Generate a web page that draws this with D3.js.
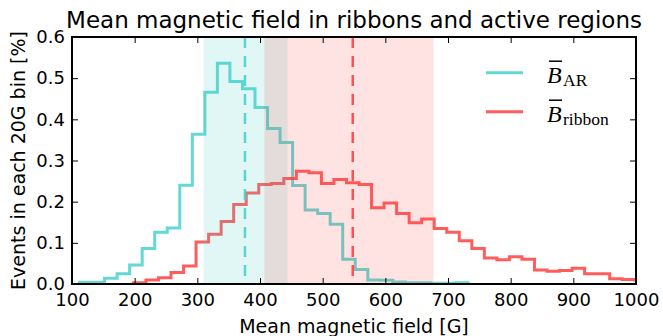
<!DOCTYPE html>
<html>
<head>
<meta charset="utf-8">
<script src="https://cdn.jsdelivr.net/npm/d3@7"></script>
<style>
  body { margin: 0; background: #fff; }
  text { font-family: "DejaVu Sans", sans-serif; fill: #000; }
</style>
</head>
<body>
<div id="chart"></div>
<script>
// histograms, 20 G bins (values in %)
const binWidth = 20;
const arStart = 112;
const arValues = [0.004, 0.004, 0.014, 0.025, 0.046, 0.086, 0.126, 0.136, 0.240, 0.364,
  0.466, 0.536, 0.492, 0.474, 0.429, 0.378, 0.344, 0.239, 0.180, 0.171,
  0.145, 0.060, 0.035, 0.010, 0.009, 0.005, 0.003, 0.003, 0.002, 0.002, 0.003];
const ribbonStart = 198;
const ribbonValues = [0.003, 0.010, 0.015, 0.028, 0.044, 0.102, 0.121, 0.152, 0.193, 0.221,
  0.242, 0.244, 0.256, 0.274, 0.270, 0.244, 0.254, 0.246, 0.242, 0.185,
  0.197, 0.171, 0.149, 0.158, 0.135, 0.126, 0.105, 0.086, 0.063, 0.059,
  0.066, 0.060, 0.034, 0.031, 0.033, 0.038, 0.025, 0.025, 0.013, 0.011, 0.010];

// means and shaded ranges (they overlap between ~407 and ~444 G)
const arMean = 376, ribbonMean = 548;
const arBand = [310, 444];
const ribbonBand = [407, 677];

const xTicks = [100, 200, 300, 400, 500, 600, 700, 800, 900, 1000];
const yTicks = [0.0, 0.1, 0.2, 0.3, 0.4, 0.5, 0.6];

const cyan = "#48d1cc", red = "#ff4040";

const margin = {top: 37, right: 27, bottom: 52, left: 72},
  width = 663 - margin.left - margin.right,
  height = 336 - margin.top - margin.bottom;

const svg = d3.select("#chart")
.append("svg")
  .attr("width", width + margin.left + margin.right)
  .attr("height", height + margin.top + margin.bottom)
.append("g")
  .attr("transform", "translate(" + margin.left + "," + margin.top + ")");

const x = d3.scaleLinear().domain([100, 1000]).range([0, width]);
const y = d3.scaleLinear().domain([0, 0.6]).range([height, 0]);

svg.append("defs").append("clipPath")
  .attr("id", "clip")
  .append("rect")
  .attr("width", width)
  .attr("height", height);

const plot = svg.append("g").attr("clip-path", "url(#clip)");

// step outline like histtype='step'
function stepPoints(start, values) {
  const pts = [[start, 0]];
  values.forEach((v, i) => pts.push([start + i * binWidth, v]));
  pts.push([start + values.length * binWidth, 0]);
  return pts;
}
const step = d3.line()
  .x(d => x(d[0]))
  .y(d => y(d[1]))
  .curve(d3.curveStepAfter);

plot.append("path")
  .attr("d", step(stepPoints(arStart, arValues)))
  .attr("fill", "none")
  .attr("stroke", cyan)
  .attr("stroke-opacity", 0.85)
  .attr("stroke-width", 3);

plot.append("path")
  .attr("d", step(stepPoints(ribbonStart, ribbonValues)))
  .attr("fill", "none")
  .attr("stroke", red)
  .attr("stroke-opacity", 0.85)
  .attr("stroke-width", 3);

// shaded ranges drawn over the lines
plot.append("rect")
  .attr("x", x(arBand[0]))
  .attr("width", x(arBand[1]) - x(arBand[0]))
  .attr("height", height)
  .attr("fill", cyan)
  .attr("fill-opacity", 0.17);
plot.append("rect")
  .attr("x", x(ribbonBand[0]))
  .attr("width", x(ribbonBand[1]) - x(ribbonBand[0]))
  .attr("height", height)
  .attr("fill", red)
  .attr("fill-opacity", 0.15);

// mean lines
[[arMean, cyan], [ribbonMean, red]].forEach(([m, c]) => {
  plot.append("line")
    .attr("x1", x(m)).attr("x2", x(m))
    .attr("y1", 0).attr("y2", height)
    .attr("stroke", c)
    .attr("stroke-opacity", 0.9)
    .attr("stroke-width", 2.5)
    .attr("stroke-dasharray", "11,8");
});

// axes, ticks pointing in
svg.append("g")
  .attr("transform", "translate(0," + height + ")")
  .call(d3.axisBottom(x).tickValues(xTicks).tickFormat(d3.format("d")).tickSize(-6).tickPadding(9));
svg.append("g")
  .call(d3.axisLeft(y).tickValues(yTicks).tickFormat(d3.format(".1f")).tickSize(-6).tickPadding(7));
svg.append("g")
  .call(d3.axisTop(x).tickValues(xTicks).tickSize(-6).tickFormat(""));
svg.append("g")
  .attr("transform", "translate(" + width + ",0)")
  .call(d3.axisRight(y).tickValues(yTicks).tickSize(-6).tickFormat(""));

svg.selectAll(".domain").remove();
svg.selectAll(".tick line").attr("stroke", "#000").attr("stroke-width", 1);
svg.selectAll(".tick text")
  .style("font-family", "DejaVu Sans")
  .style("font-size", "18px")
  .attr("fill", "#000");

svg.append("rect")
  .attr("width", width)
  .attr("height", height)
  .attr("fill", "none")
  .attr("stroke", "#000")
  .attr("stroke-width", 2);

// title and axis labels
svg.append("text")
  .attr("x", width / 2)
  .attr("y", -9)
  .attr("text-anchor", "middle")
  .style("font-size", "23px")
  .text("Mean magnetic field in ribbons and active regions");

svg.append("text")
  .attr("x", width / 2)
  .attr("y", height + 49)
  .attr("text-anchor", "middle")
  .style("font-size", "19px")
  .text("Mean magnetic field [G]");

svg.append("text")
  .attr("transform", "translate(" + (25 - margin.left) + "," + (height / 2) + ") rotate(-90)")
  .attr("text-anchor", "middle")
  .style("font-size", "19px")
  .text("Events in each 20G bin [%]");

// legend
const legendItems = [
  {sub: "AR", color: cyan},
  {sub: "ribbon", color: red}
];
const legend = svg.append("g")
  .attr("transform", "translate(" + (486 - margin.left) + "," + (72.7 - margin.top) + ")");
legendItems.forEach((d, i) => {
  const g = legend.append("g").attr("transform", "translate(0," + (i * 39) + ")");
  g.append("line")
    .attr("x1", 0).attr("x2", 37)
    .attr("stroke", d.color)
    .attr("stroke-opacity", 0.85)
    .attr("stroke-width", 3);
  const b = g.append("text")
    .attr("x", 61)
    .attr("y", 10)
    .style("font-family", "Liberation Serif")
    .style("font-style", "italic")
    .style("font-size", "24px")
    .text("B");
  const bb = b.node().getBBox();
  g.append("line")
    .attr("x1", bb.x + 2).attr("x2", bb.x + bb.width)
    .attr("y1", -11.5).attr("y2", -11.5)
    .attr("stroke", "#000")
    .attr("stroke-width", 1.5);
  g.append("text")
    .attr("x", bb.x + bb.width + 1)
    .attr("y", 13)
    .style("font-family", "Liberation Serif")
    .style("font-size", "17.5px")
    .text(d.sub);
});
</script>
</body>
</html>
